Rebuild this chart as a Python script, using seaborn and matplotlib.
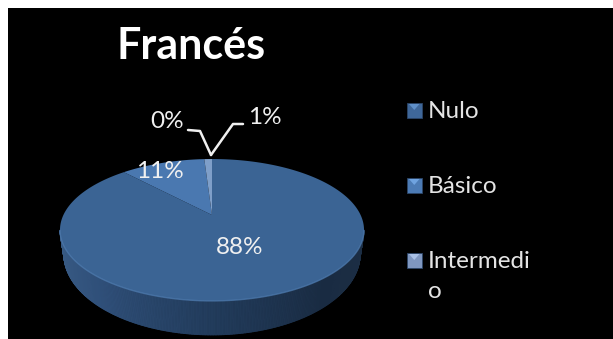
import numpy as np
import matplotlib
matplotlib.use("Agg")
import matplotlib.pyplot as plt
from matplotlib.collections import PolyCollection
from matplotlib.patches import Rectangle
import seaborn as sns

title = "Francés"
categories = ["Nulo", "Básico", "Intermedi\no"]
values = [88, 11, 1]
face_colors = ["#3b6494", "#4a78b0", "#7f9fc9"]
legend_colors = ["#3f6799", "#4c7bb5", "#7f97c0"]
legend_tops = ["#5f8fc8", "#6fa3e0", "#a9c0e6"]
pct_labels = ["88%", "11%", "1%", "0%"]

sns.set_theme(style="white")
plt.rcParams["font.family"] = ["Lato", "DejaVu Sans"]

W, H = 613, 339
fig = plt.figure(figsize=(W / 100, H / 100), dpi=100, facecolor="white")
ax = fig.add_axes([0, 0, 1, 1])
ax.set_xlim(0, W)
ax.set_ylim(H, 0)
ax.axis("off")
ax.add_patch(Rectangle((8, 8), W - 8, H - 8, facecolor="black", edgecolor="none", zorder=0))

# perspective view of a circular disc
CX, APEX_Y, A, B, K = 212.0, 215.0, 148.6, 67.8, 0.211


def project(theta):
    u, v = np.sin(theta), np.cos(theta)
    d = 1 + K * v
    return CX + A * u / d, APEX_Y - B * v / d


# side wall
tt = np.linspace(0, 2 * np.pi, 721)
rx, ry = project(tt)
centre_y = 0.5 * (ry.min() + ry.max())
half_b = 0.5 * (ry.max() - ry.min())
keep = np.where(ry >= centre_y)[0]
keep = keep[np.argsort(-tt[keep])]
lx, ly = rx[keep], ry[keep]
bx = CX + 0.975 * (lx - CX)
by = ly + 24 + 10 * (ly - centre_y) / half_b
ramp = sns.blend_palette(["#3a5d86", "#30507a", "#223c5c", "#1a2c43", "#1c2e44"], n_colors=len(lx))
polys = [[(lx[i], ly[i]), (lx[i + 1], ly[i + 1]), (bx[i + 1], by[i + 1]), (bx[i], by[i])]
         for i in range(len(lx) - 1)]
ax.add_collection(PolyCollection(polys, facecolors=ramp[:-1], edgecolors=ramp[:-1], linewidths=0.6, zorder=1))

# top face, clockwise from twelve o'clock
edges = np.cumsum([0] + values) / sum(values) * 2 * np.pi
for start, stop, col in zip(edges[:-1], edges[1:], face_colors):
    th = np.linspace(start, stop, 300)
    x, y = project(th)
    ax.fill(np.r_[CX, x], np.r_[APEX_Y, y], facecolor=col, edgecolor="none", zorder=2)

# soft highlight on the front rim
ax.plot(lx, ly, color="#4f7cb0", lw=1.0, zorder=3, alpha=0.7)

# labels
txt = dict(color="#f0f0f0", ha="center", va="center", fontsize=17.5, zorder=5)
ax.text(240, 247, pct_labels[0], **txt)
ax.text(160, 171, pct_labels[1], **txt)
ax.text(265, 117, pct_labels[2], **txt)
ax.text(167, 122, pct_labels[3], **txt)
ax.plot([243, 233, 211], [124, 124, 155], color="#f0f0f0", lw=1.8, zorder=4)
ax.plot([188, 200, 211], [130, 131, 155], color="#f0f0f0", lw=1.8, zorder=4)

ax.text(191, 46, title, color="white", ha="center", va="center", fontsize=31, fontweight="bold")

# legend
for name, col, top, yc in zip(categories, legend_colors, legend_tops, [110, 185, 260]):
    x0, x1, y0, y1 = 407, 421.5, yc - 7.5, yc + 7.5
    ax.add_patch(Rectangle((x0, y0), x1 - x0, y1 - y0, facecolor=col, edgecolor="#2c4668", linewidth=0.6, zorder=3))
    ax.fill([x0 + 2, x1 - 2, (x0 + x1) / 2], [y0 + 1.5, y0 + 1.5, yc], facecolor=top, edgecolor="none", zorder=4)
    ax.text(428, yc - 9, name, color="#e4e4e4", ha="left", va="top", fontsize=17.5, linespacing=1.5)

fig.savefig("out.png", dpi=100, facecolor="white")
